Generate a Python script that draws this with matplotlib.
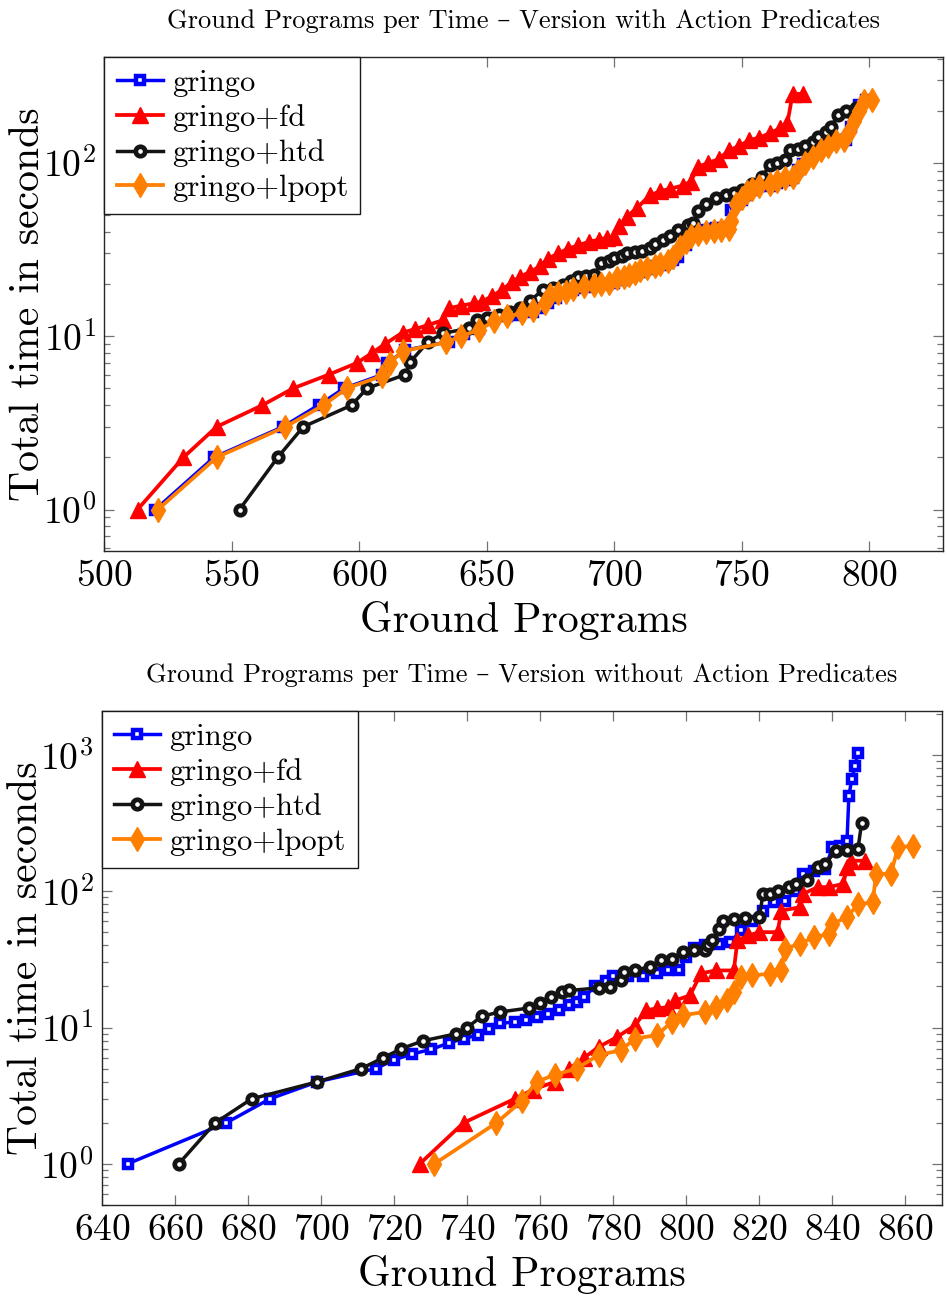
import matplotlib
matplotlib.use('Agg')
import matplotlib.pyplot as plt
from matplotlib.ticker import MultipleLocator, LogLocator

# ---- data: version with action predicates (top) ----
top_gringo_x = [520, 543, 570, 584, 594, 609, 611, 618, 635, 641, 647, 653, 658, 662, 668, 671, 674, 677,
                680, 684, 687, 690, 693, 697, 700, 703, 705, 708, 710, 713, 716, 719, 721, 723, 725, 728,
                731, 733, 735, 738, 740, 743, 745, 746, 748, 750, 752, 754, 757, 761, 764, 767, 770, 772,
                774, 776, 779, 782, 785, 788, 791, 793, 794, 796, 799]
top_gringo_y = [1, 2, 3, 4, 5, 6, 7, 8.3, 9.3, 10.3, 11, 12.7, 13, 13.3, 13.7, 14.5, 15.5, 16.5,
                18.1, 18.5, 18.9, 19.3, 19.8, 20, 20.2, 21, 22, 22.7, 23.6, 24.5, 25.3, 25.8, 26.4, 27.5,
                28.8, 33.6, 38.4, 40, 41, 41.5, 42, 42, 42.5, 53.5, 58, 61, 65, 70, 74, 74, 77, 80, 81.5,
                91, 98, 104, 112, 123, 128, 135, 135, 162, 194, 215, 229]

top_fd_x = [513, 531, 544, 562, 574, 588, 599, 605, 610, 617, 622, 627, 633, 635, 640, 645, 648, 652,
            656, 660, 663, 667, 671, 674, 678, 682, 686, 690, 694, 697, 700, 702, 705, 709, 714, 718,
            722, 727, 730, 733, 737, 741, 745, 749, 753, 757, 761, 765, 768, 770, 774]
top_fd_y = [1, 2, 3, 4, 5, 6, 7, 8, 9, 10.5, 11, 11.6, 12.4, 14.5, 15, 15.5, 15.8, 17,
            18.5, 20.6, 22, 23.5, 25.3, 28, 30, 32, 33.5, 35, 36, 37, 37.5, 43, 49, 55, 65, 68.5,
            71, 74, 78, 95, 100, 105, 118, 125, 135, 140, 148, 158, 170, 250, 250]

top_htd_x = [553, 568, 578, 597, 603, 618, 620, 627, 633, 643, 646, 650, 655, 659, 663, 667, 672, 676,
             680, 683, 686, 689, 692, 695, 698, 700, 703, 705, 708, 711, 714, 716, 719, 722, 725, 729,
             731, 733, 736, 740, 744, 747, 750, 754, 758, 761, 764, 767, 769, 772, 775, 778, 780, 783,
             785, 788, 791, 795]
top_htd_y = [1, 2, 3, 4, 5, 6, 7.1, 9.3, 10.4, 11.1, 12.4, 12.8, 13.3, 13.8, 14.5, 16, 18.5, 19,
             19.8, 20.8, 22, 22.3, 22.6, 26.4, 27, 28.2, 29, 30, 30.7, 31.2, 32.2, 34, 36, 38, 41, 44,
             45, 53, 58, 62.6, 65, 67, 70, 76, 83, 97, 100, 104, 118, 120, 125, 132, 141, 150,
             162, 189, 200, 207]

top_lpopt_x = [521, 544, 571, 586, 595, 609, 612, 617, 634, 640, 647, 653, 658, 664, 668, 673, 675, 678,
               681, 684, 688, 692, 695, 698, 701, 704, 706, 708, 710, 713, 716, 718, 721, 723, 726, 728,
               730, 733, 736, 739, 742, 745, 746, 748, 750, 752, 754, 757, 761, 764, 767, 770, 772, 775,
               778, 781, 784, 787, 790, 792, 794, 796, 798, 801]
top_lpopt_y = [1, 2, 3, 4, 5, 5.9, 7, 8.2, 9.2, 10, 10.9, 12.2, 13, 13.6, 14.2, 15.5, 17.3, 17.7,
               18.1, 18.7, 19.4, 19.8, 20, 20.2, 21.6, 22, 22.5, 23, 24.2, 24.8, 25.3, 26, 27, 28.8, 32.9, 35,
               37.6, 39, 40, 40.5, 41, 41.5, 46, 58, 63, 68, 71, 74, 76, 79, 82, 83, 90, 100,
               108, 118, 125, 133, 135, 150, 175, 200, 226, 230]

# ---- data: version without action predicates (bottom) ----
bot_gringo_x = [647, 674, 686, 699, 715, 720, 725, 730, 735, 739, 743, 746, 749, 753, 756, 759, 762, 765,
                768, 770, 772, 775, 778, 780, 784, 788, 792, 795, 798, 800, 802, 805, 809, 812, 815, 818,
                821, 824, 827, 830, 832, 835, 838, 840, 842, 844, 844.5, 845.3, 846.2, 847]
bot_gringo_y = [1, 2, 3, 4, 5, 5.8, 6.4, 6.9, 7.7, 8.3, 8.8, 9.8, 10.7, 11, 11.4, 12, 12.5, 13.5,
                14.6, 15.5, 16.8, 20, 22, 24, 24, 24, 25, 26.2, 26.2, 33, 38, 40, 41, 42, 51.5, 60,
                72, 83, 85, 100, 134, 140, 145, 210, 215, 235, 497, 663, 827, 1038]

bot_fd_x = [727, 739, 753, 758, 764, 768, 772, 776, 781, 786, 789, 792, 795, 797, 801, 804, 808, 813,
            814, 817, 820, 825, 826, 831, 832, 836, 839, 843, 844, 845, 849]
bot_fd_y = [1, 2, 3, 3.5, 4, 5, 6, 7.2, 8.5, 10.4, 13.4, 13.8, 14.1, 15.8, 17.2, 24.9, 26.2, 26.2,
            43.5, 47.3, 50, 50, 72, 76, 95.6, 107, 107, 113, 150, 167, 167]

bot_htd_x = [661, 671, 681, 699, 711, 717, 722, 728, 737, 740, 744, 749, 757, 760, 763, 766, 768, 776,
             779, 782, 783, 786, 790, 793, 796, 799, 802, 805, 806, 807, 809, 810, 813, 816, 820, 821,
             823, 825, 828, 830, 833, 836, 838, 841, 844, 847, 848]
bot_htd_y = [1, 2, 3, 4, 5, 6, 7, 8, 9, 10, 12.1, 13, 13.9, 15, 16.8, 18.2, 18.7, 19.5,
             19.8, 22.2, 25.5, 26.2, 28, 31, 31.9, 35.8, 36.7, 36.7, 40, 43.5, 52.7, 60.7, 62.6, 64, 64.5, 95.6,
             95.6, 100, 107, 113, 120, 149, 158, 198, 200, 204, 317]

bot_lpopt_x = [731, 748, 755, 759, 764, 770, 776, 782, 786, 792, 796, 799, 805, 808, 811, 813, 815, 818,
               823, 826, 827, 831, 835, 839, 840, 844, 847, 851, 852, 856, 858, 862]
bot_lpopt_y = [1, 2, 2.9, 4, 4.5, 5, 6.3, 6.8, 8.3, 8.8, 11, 12.3, 13, 14.1, 15.8, 18.2, 23.5, 24.1,
               24.8, 26.2, 37.8, 41, 46, 48.5, 57.5, 64.5, 80, 83, 134, 134, 210, 215]

labels = ['gringo', 'gringo+fd', 'gringo+htd', 'gringo+lpopt']

plt.rcParams['font.family'] = ['cmr10', 'DejaVu Serif']
plt.rcParams['mathtext.fontset'] = 'cm'
plt.rcParams['axes.formatter.use_mathtext'] = True
plt.rcParams['axes.unicode_minus'] = False

styles = [
    dict(color='#0000ff', marker='s', markersize=5.6, markerfacecolor='white', markeredgewidth=3.2, lw=2.5),
    dict(color='#ff0000', marker='^', markersize=11, markeredgewidth=1, lw=2.7),
    dict(color='#141414', marker='o', markersize=6.8, markerfacecolor='white', markeredgewidth=3.4, lw=2.5),
    dict(color='#ff7f00', marker='d', markersize=12, markeredgewidth=1, lw=2.7),
]


def draw_panel(ax, series, title, xlim, ylim, xstep):
    for (xs, ys), lab, st in zip(series, labels, styles):
        ax.plot(xs, ys, label=lab, **st)
    ax.set_yscale('log')
    ax.set_xlim(*xlim)
    ax.set_ylim(*ylim)
    ax.xaxis.set_major_locator(MultipleLocator(xstep))
    ax.yaxis.set_major_locator(LogLocator(base=10, numticks=10))
    ax.tick_params(which='both', direction='in', top=True, right=True, color='0.45', width=0.9)
    ax.tick_params(which='major', length=7, labelsize=27, pad=6)
    ax.tick_params(which='minor', length=4)
    for sp in ax.spines.values():
        sp.set_linewidth(1.0)
        sp.set_color('0.15')
    ax.set_xlabel('Ground Programs', fontsize=30, labelpad=6)
    ax.set_ylabel('Total time in seconds', fontsize=30, labelpad=-3)
    ax.set_title(title, fontsize=19, pad=21)
    leg = ax.legend(loc='upper left', bbox_to_anchor=(0, 1), borderaxespad=0, fontsize=22,
                    numpoints=1, handlelength=1.5, handletextpad=0.3, labelspacing=0.24,
                    borderpad=0.4, fancybox=False, framealpha=1, edgecolor='0.1')
    leg.get_frame().set_linewidth(1.0)


fig = plt.figure(figsize=(9.47, 12.99), dpi=100)
ax1 = fig.add_axes([0.1103, 0.5758, 0.8854, 0.3803])
ax2 = fig.add_axes([0.1077, 0.0724, 0.8870, 0.3803])

draw_panel(ax1, [(top_gringo_x, top_gringo_y), (top_fd_x, top_fd_y),
                 (top_htd_x, top_htd_y), (top_lpopt_x, top_lpopt_y)],
           'Ground Programs per Time – Version with Action Predicates',
           (500, 829), (0.576, 408), 50)
draw_panel(ax2, [(bot_gringo_x, bot_gringo_y), (bot_fd_x, bot_fd_y),
                 (bot_htd_x, bot_htd_y), (bot_lpopt_x, bot_lpopt_y)],
           'Ground Programs per Time – Version without Action Predicates',
           (640, 870), (0.5, 2094), 20)

fig.savefig('out.png', dpi=100)
